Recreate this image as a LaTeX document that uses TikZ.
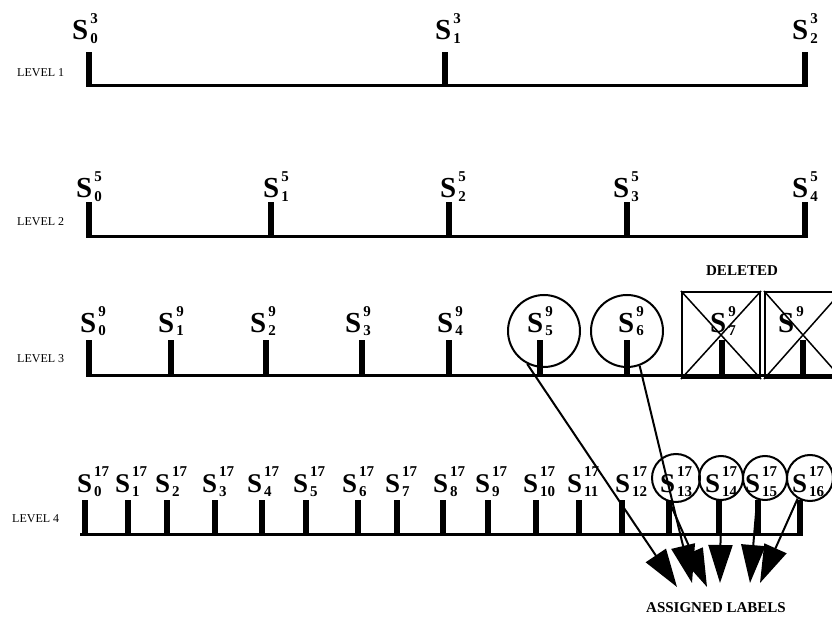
\documentclass[tikz,border=0pt]{standalone}
\usepackage{fontspec}
\setmainfont{Liberation Serif}
\usetikzlibrary{arrows.meta}
\newcommand\ssz{\fontsize{15}{15}\selectfont\bfseries}
\newcommand\slab[3][29]{{\fontsize{#1}{#1}\selectfont\bfseries S}\kern2pt\rlap{\raisebox{16pt}{\ssz #2}}\raisebox{-4pt}{\ssz #3}}
\tikzset{
  lab/.style={anchor=base west, inner sep=0pt},
  lvl/.style={anchor=base west, inner sep=0pt, font=\fontsize{12}{12}\selectfont},
  base line/.style={line width=3pt},
  ring/.style={circle, draw, line width=2pt, inner sep=0pt},
  delbox/.style={draw, line width=2pt, inner sep=0pt},
  arr/.style={line width=2pt, -{Triangle[length=38pt,width=24pt]}},
  cap text/.style={anchor=base, inner sep=0pt, font=\fontsize{15}{15}\selectfont\bfseries}
}
\begin{document}
\begin{tikzpicture}[x=1pt,y=-1pt]
\useasboundingbox (0,0) rectangle (832,617);
\clip (0,0) rectangle (832,617);
% level 1
\node[lvl] (lv1) at (17,77) {LEVEL 1};
\draw[base line] (86,86) -- (808,86);
\foreach \x in {89,445,805} \fill (\x-3,52) rectangle (\x+3,86);
\foreach \x [count=\i from 0] in {72,435,792} \node[lab] (a\i) at (\x,40) {\slab{3}{\i}};
% level 2
\node[lvl] (lv2) at (17,226) {LEVEL 2};
\draw[base line] (86,237) -- (808,237);
\foreach \x in {89,271,449,627,805} \fill (\x-3,202) rectangle (\x+3,237);
\foreach \x [count=\i from 0] in {76,263,440,613,792} \node[lab] (b\i) at (\x,198) {\slab{5}{\i}};
% level 3
\node[lvl] (lv3) at (17,362) {LEVEL 3};
\draw[base line] (86,375) -- (840,375);
\foreach \x in {89,171,266,362,449,540,627,722,803} \fill (\x-3,340) rectangle (\x+3,375);
\foreach \x [count=\i from 0] in {80,158,250,345,437,527,618,710} \node[lab] (c\i) at (\x,332) {\slab{9}{\i}};
\node[lab] (c8) at (778,332) {\slab{9}{}};
% level 4
\node[lvl] (lv4) at (12,522) {LEVEL 4};
\draw[base line] (80,534) -- (803,534);
\foreach \x in {85,128,167,215,262,306,358,397,443,488,536,579,622,669,719,758,800} \fill (\x-3,500) rectangle (\x+3,534);
\foreach \x [count=\i from 0] in {77,115,155,202,247,293,342,385,433,475,523,567,615,660,705,745,792} \node[lab] (d\i) at (\x,492) {\slab[27]{17}{\i}};
% circles
\node[ring, minimum size=72pt] (r5) at (544,331) {};
\node[ring, minimum size=72pt] (r6) at (627,331) {};
\node[ring, minimum size=48pt] (q13) at (676,478) {};
\node[ring, minimum size=44pt] (q14) at (721,478) {};
\node[ring, minimum size=44pt] (q15) at (765,478) {};
\node[ring, minimum size=46pt] (q16) at (810,478) {};
% deleted boxes
\node[cap text] (del) at (742,276) {DELETED};
\node[delbox, minimum width=78pt, minimum height=86pt] (x7) at (721,335) {};
\node[delbox, minimum width=76pt, minimum height=86pt] (x8) at (803,335) {};
\draw[line width=1.5pt] (x7.north west) -- (x7.south east) (x7.north east) -- (x7.south west);
\draw[line width=1.5pt] (x8.north west) -- (x8.south east) (x8.north east) -- (x8.south west);
% arrows
\coordinate (t1) at (677,587);
\coordinate (t2) at (692,583);
\coordinate (t3) at (707,587);
\coordinate (t4) at (720,583);
\coordinate (t5) at (750,583);
\coordinate (t6) at (760,583);
\draw[arr] (r5.-117) -- (t1);
\draw[arr] (r6.-70) -- (t2);
\draw[arr] (q13.-105) -- (t3);
\draw[arr] (q14.-90) -- (t4);
\draw[arr] (q15.-110) -- (t5);
\draw[arr] (q16.-121) -- (t6);
\node[cap text] (asg) at (716,612) {ASSIGNED LABELS};
\end{tikzpicture}
\end{document}
